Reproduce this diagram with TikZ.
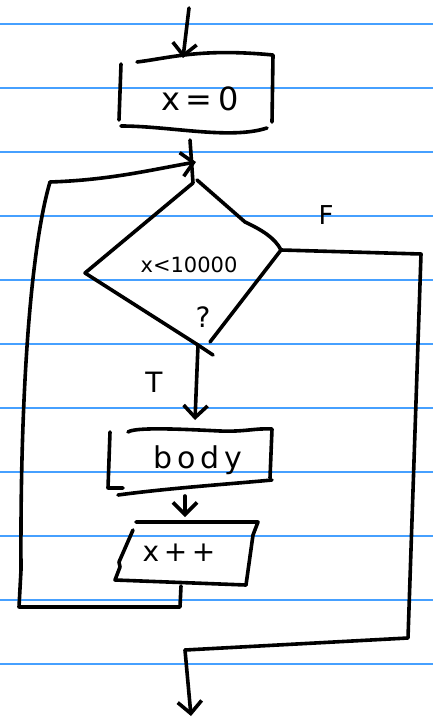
\documentclass[tikz,border=0pt]{standalone}
\usepackage{fontspec}
\setmainfont{DejaVu Sans}
\usetikzlibrary{arrows.meta}
\definecolor{rule}{RGB}{70,160,255}
\begin{document}
\begin{tikzpicture}[x=1pt,y=-1pt,
  ink/.style={line width=3.6pt,line cap=round,line join=round,black},
  vee/.style={ink,-{Straight Barb[length=12pt,width=24pt,line width=3.6pt]}},
  lbl/.style={inner sep=0pt,font=\fontsize{28}{30}\selectfont}]
\fill[white] (0,0) rectangle (433,719);
\useasboundingbox (0,0) rectangle (433,719);
% ruled lines
\foreach \yy in {24,88,...,664} \draw[rule,line width=1.5pt] (0,\yy) -- (433,\yy);

% coordinates
\coordinate (start) at (189,8);
\coordinate (b1tl) at (121,64); \coordinate (b1tr) at (273,55);
\coordinate (b1br) at (267,128); \coordinate (b1bl) at (121,126);
\coordinate (b1top) at (183,58);
\coordinate (dtop) at (193,183); \coordinate (dleft) at (85,273);
\coordinate (dbot) at (198,345); \coordinate (dright) at (281,250);
\coordinate (loopin) at (196,162);
\coordinate (b2tl) at (128,432); \coordinate (b2tr) at (272,429);
\coordinate (b2br) at (270,478); \coordinate (b2bl) at (108,488);
\coordinate (b2top) at (195,420);
\coordinate (b3tl) at (136,522); \coordinate (b3tr) at (258,522);
\coordinate (b3br) at (246,585); \coordinate (b3bl) at (115,580);
\coordinate (b3out) at (181,586);
\coordinate (lbl) at (19,607); \coordinate (ltl) at (50,182);
\coordinate (rtr) at (421,254); \coordinate (rbr) at (408,638);
\coordinate (exitc) at (185,650); \coordinate (exit) at (191,716);

% texts
\node[lbl,font=\fontsize{32}{34}\selectfont] (t1) at (200,99) {x\,=\,0};
\node[lbl,font=\fontsize{21}{23}\selectfont] (t2) at (189,265) {x<10000};
\node[lbl] (t3) at (203,317) {?};
\node[lbl,font=\fontsize{26}{28}\selectfont] (tF) at (326,215) {F};
\node[lbl] (tT) at (154,382) {T};
\node[lbl,font=\fontsize{30}{32}\selectfont] (t4) at (198,460) {b\,o\,d\,y};
\node[lbl,font=\fontsize{28}{30}\selectfont] (t5) at (179,553) {x\,+\,+};

% entry arrow
\draw[vee] (start) -- (b1top);
% box 1
\draw[ink] (137,62) .. controls (170,58) and (200,48) .. (b1tr) -- (272,122);
\draw[ink] (b1tl) -- (119,120);
\draw[ink] (b1bl) .. controls (170,126) and (230,140) .. (b1br);
% box1 to diamond
\draw[ink] (190,140) -- (dtop);
\draw[vee] (ltl) .. controls (110,180) and (150,170) .. (loopin);
% diamond
\draw[ink] (dtop) -- (dleft) -- (dbot) -- (213,355);
\draw[ink] (197,180) -- (245,222) .. controls (262,230) and (275,238) .. (dright) -- (210,342);
% T branch
\draw[vee] (dbot) -- (b2top);
% box 2
\draw[ink] (b2tl) .. controls (135,427) and (180,429) .. (220,431) .. controls (245,432) and (255,428) .. (b2tr) -- (b2br);
\draw[ink] (110,432) -- (b2bl) -- (123,488);
\draw[ink] (118,495) .. controls (170,488) and (230,484) .. (272,480);
% box2 to box3
\draw[vee] (185,496) -- (185,517);
% box 3
\draw[ink] (b3tl) -- (b3tr) -- (253,535) -- (b3br);
\draw[ink] (133,530) -- (119,562) -- (120,567) -- (b3bl) -- (b3br);
% loop back
\draw[ink] (b3out) -- (180,607) -- (lbl) -- (21,570) .. controls (20,400) and (30,250) .. (ltl);
% F branch
\draw[ink] (dright) -- (rtr) -- (rbr) -- (exitc);
\draw[vee] (exitc) -- (exit);
\end{tikzpicture}
\end{document}
